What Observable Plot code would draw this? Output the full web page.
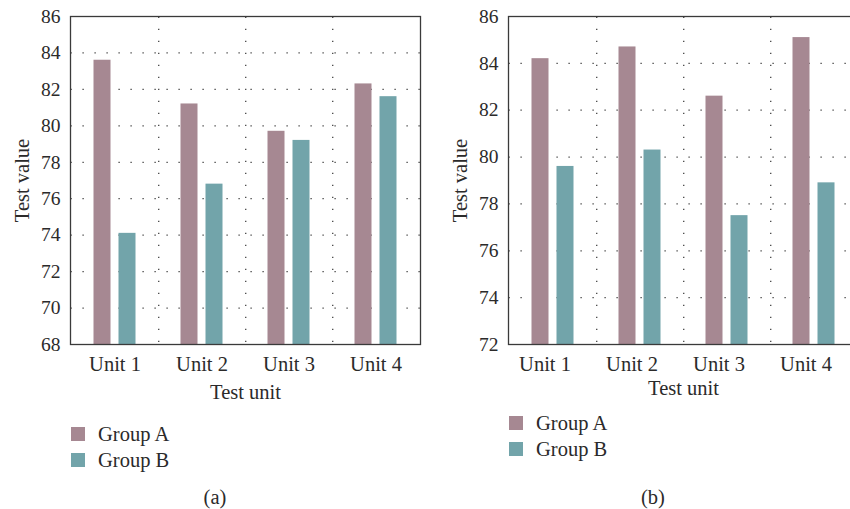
<!DOCTYPE html>
<html>
<head>
<meta charset="utf-8">
<script src="https://cdn.jsdelivr.net/npm/d3@7"></script>
<script src="https://cdn.jsdelivr.net/npm/@observablehq/plot@0.6"></script>
<style>
  body { margin: 0; background: #fff; }
  #wrap { position: relative; width: 850px; height: 509px; overflow: hidden;
          font-family: "Liberation Serif", serif; color: #2b2a2a; }
  .panel { position: absolute; top: 0; }
  .legend { position: absolute; font-size: 20.5px; }
  .row { display: flex; align-items: center; height: 26px; }
  .sw { width: 14px; height: 14px; margin-right: 13px; flex: none; }
  .cap { position: absolute; font-size: 20.5px; line-height: 24px; transform: translateX(-50%); }
</style>
</head>
<body>
<div id="wrap"></div>
<script>
// Categories and series
const units = ["Unit 1", "Unit 2", "Unit 3", "Unit 4"];
const groups = ["Group A", "Group B"];
const groupColors = ["#a68892", "#72a4aa"];

// Panel (a)
const groupA_a = [83.6, 81.2, 79.7, 82.3];
const groupB_a = [74.1, 76.8, 79.2, 81.6];
const yTicks_a = [68, 70, 72, 74, 76, 78, 80, 82, 84, 86];

// Panel (b)
const groupA_b = [84.2, 84.7, 82.6, 85.1];
const groupB_b = [79.6, 80.3, 77.5, 78.9];
const yTicks_b = [72, 74, 76, 78, 80, 82, 84, 86];

const wrap = document.getElementById("wrap");

function panel({aVals, bVals, yTicks, left, xLabelOffset, xTickDx, legendTop, caption, captionX}) {
  const W = 430, H = 400, mL = 70, mR = 10, mT = 16, mB = 56;
  const band = (W - mL - mR) / units.length;
  const barW = 17.5, gap = 7.5;
  const edge = (band - 2 * barW - gap) / 2;
  const y0 = yTicks[0];

  const rows = units.flatMap((u, i) => [
    {unit: u, group: groups[0], value: aVals[i]},
    {unit: u, group: groups[1], value: bVals[i]}
  ]);

  // dotted grid style
  const dots = {stroke: "#333", strokeOpacity: 1, strokeWidth: 1.2, strokeDasharray: "1.2,10.8"};

  const svg = Plot.plot({
    width: W, height: H,
    marginLeft: mL, marginRight: mR, marginTop: mT, marginBottom: mB,
    style: {fontFamily: "Liberation Serif, serif", color: "#2b2a2a", background: "transparent", overflow: "visible"},
    x: {domain: units, padding: 0},
    y: {domain: [yTicks[0], yTicks[yTicks.length - 1]]},
    color: {domain: groups, range: groupColors},
    marks: [
      Plot.gridY(yTicks.slice(1, -1), {...dots, strokeDashoffset: 11.5}),
      Plot.ruleX(units.slice(0, -1), {x: d => d, dx: band / 2, ...dots, strokeDashoffset: 11.3}),
      Plot.barY(rows.filter(d => d.group === groups[0]), {
        x: "unit", y1: y0, y2: "value", fill: "group",
        insetLeft: edge, insetRight: edge + barW + gap
      }),
      Plot.barY(rows.filter(d => d.group === groups[1]), {
        x: "unit", y1: y0, y2: "value", fill: "group",
        insetLeft: edge + barW + gap, insetRight: edge
      }),
      Plot.axisY({
        ticks: yTicks, tickSize: 0, tickPadding: 10, fontSize: 19.5,
        label: null
      }),
      Plot.axisY({
        ticks: [], tickSize: 0, fontSize: 20.5,
        label: "Test value", labelArrow: false, labelAnchor: "center", labelOffset: 56
      }),
      Plot.axisX({
        tickSize: 0, tickPadding: 12, fontSize: 20.5, dx: xTickDx,
        label: null
      }),
      Plot.axisX({
        ticks: [], tickSize: 0, fontSize: 20.5,
        label: "Test unit", labelArrow: false, labelAnchor: "center", labelOffset: xLabelOffset
      }),
      Plot.frame({stroke: "#3a3a3a", strokeWidth: 1.3})
    ]
  });
  svg.classList.add("panel");
  svg.style.left = left + "px";
  wrap.appendChild(svg);

  const legend = document.createElement("div");
  legend.className = "legend";
  legend.style.left = (left + mL + 1) + "px";
  legend.style.top = legendTop + "px";
  groups.forEach((g, i) => {
    const row = document.createElement("div");
    row.className = "row";
    const sw = document.createElement("span");
    sw.className = "sw";
    sw.style.background = groupColors[i];
    const tx = document.createElement("span");
    tx.textContent = g;
    row.append(sw, tx);
    legend.appendChild(row);
  });
  wrap.appendChild(legend);

  const cap = document.createElement("div");
  cap.className = "cap";
  cap.textContent = caption;
  cap.style.left = captionX + "px";
  cap.style.top = "485px";
  wrap.appendChild(cap);
}

panel({aVals: groupA_a, bVals: groupB_a, yTicks: yTicks_a, left: 0,
  xLabelOffset: 54, xTickDx: 0, legendTop: 421, caption: "(a)", captionX: 215});

panel({aVals: groupA_b, bVals: groupB_b, yTicks: yTicks_b, left: 438,
  xLabelOffset: 50, xTickDx: -8, legendTop: 410, caption: "(b)", captionX: 653});
</script>
</body>
</html>
